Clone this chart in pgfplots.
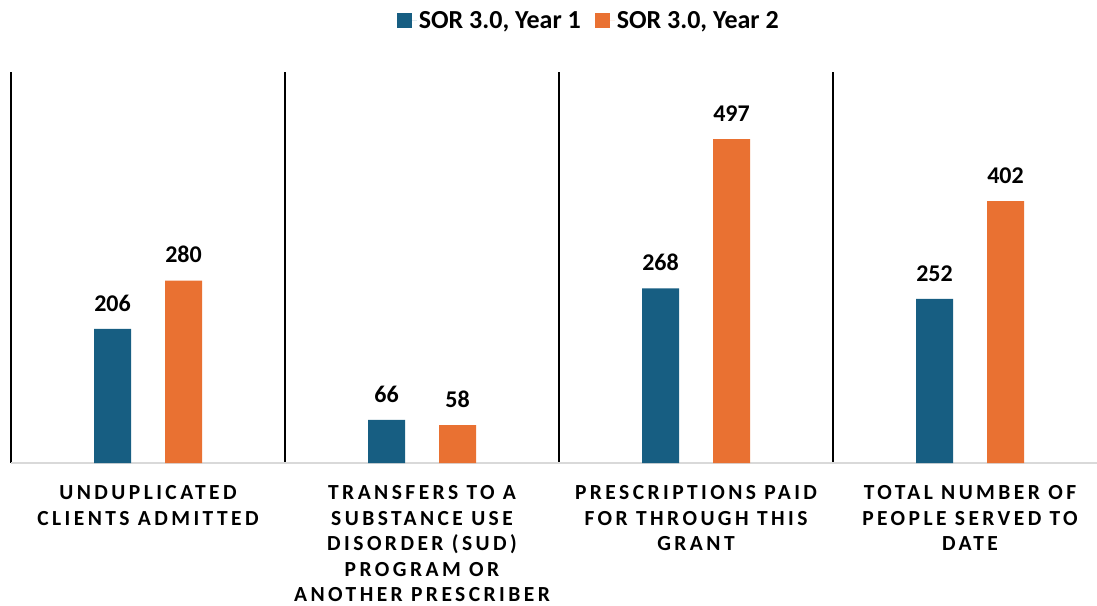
\documentclass[border=0pt]{standalone}
\usepackage{fontspec}
\setmainfont{Carlito}
\newfontfamily\capsfont[LetterSpace=16]{Carlito}
\usepackage{pgfplots}
\pgfplotsset{compat=1.18}
\definecolor{yrone}{HTML}{175E82}
\definecolor{yrtwo}{HTML}{E97132}
\begin{document}
\begin{tikzpicture}
\begin{axis}[
  at={(11pt,142pt)}, anchor=south west,
  scale only axis, width=1086pt, height=391pt,
  ybar=34pt, bar width=37pt,
  xmin=-0.5, xmax=3.4635, ymin=0, ymax=600,
  axis y line=none, axis x line*=bottom,
  x axis line style={draw=black!15, line width=1.5pt, -},
  xtick={0,1,2,3},
  xticklabels={UNDUPLICATED\\CLIENTS ADMITTED,
    TRANSFERS TO A\\SUBSTANCE USE\\DISORDER (SUD)\\PROGRAM OR\\ANOTHER PRESCRIBER,
    PRESCRIPTIONS PAID\\FOR THROUGH THIS\\GRANT,
    TOTAL NUMBER OF\\PEOPLE SERVED TO\\DATE},
  minor xtick={-0.5,0.5,1.5,2.5}, xminorgrids,
  minor grid style={black, line width=1.5pt},
  major tick length=0, minor tick length=0,
  xticklabel style={font=\capsfont\bfseries\fontsize{21.5}{25.5}\selectfont,
    align=center, anchor=north, yshift=-19pt},
  nodes near coords,
  nodes near coords style={font=\bfseries\fontsize{24}{28}\selectfont, black, yshift=14pt},
  /pgf/number format/assume math mode=true,
  legend columns=2,
  legend style={at={(0.532,1)}, anchor=center, yshift=51pt, draw=none,
    font=\bfseries\fontsize{26}{30}\selectfont,
    /tikz/every even column/.append style={column sep=12pt}},
]
\addplot[fill=yrone, draw=none,
  legend image code/.code={\path (0pt,0pt) -- (20pt,0pt);
    \fill[yrone] (0pt,-7.5pt) rectangle (15pt,7.5pt);}]
  coordinates {(0,206) (1,66) (2,268) (3,252)};
\addplot[fill=yrtwo, draw=none,
  legend image code/.code={\path (0pt,0pt) -- (20pt,0pt);
    \fill[yrtwo] (0pt,-7.5pt) rectangle (15pt,7.5pt);}]
  coordinates {(0,280) (1,58) (2,497) (3,402)};
\legend{SOR 3.0{,} Year 1, SOR 3.0{,} Year 2}
\end{axis}
\pgfresetboundingbox
\path[use as bounding box] (0,0) rectangle (1097pt,605pt);
\end{tikzpicture}
\end{document}
